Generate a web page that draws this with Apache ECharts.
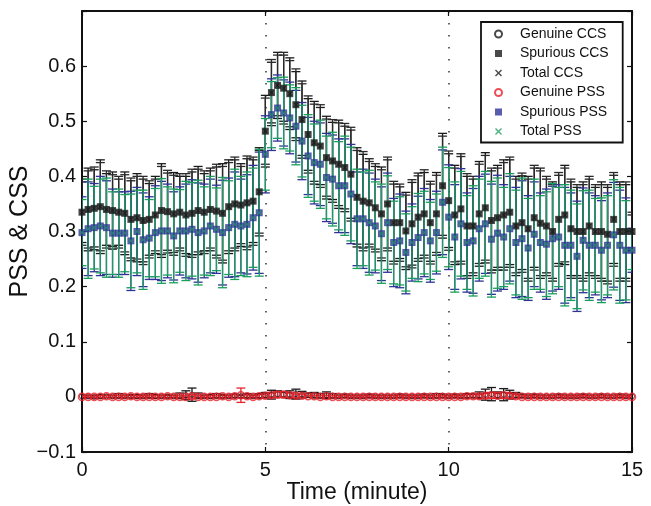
<!DOCTYPE html>
<html><head><meta charset="utf-8">
<script src="https://cdn.jsdelivr.net/npm/echarts@6/dist/echarts.min.js"></script>
<style>html,body{margin:0;padding:0;background:#fff}#c{width:651px;height:506px}</style>
</head><body><div id="c"></div>
<script>
// sample times in seconds (10 s windows)
const timeSec = [
0,10,20,30,40,50,60,70,80,90,
100,110,120,130,140,150,160,170,180,190,
200,210,220,230,240,250,260,270,280,290,
300,310,320,330,340,350,360,370,380,390,
400,410,420,430,440,450,460,470,480,490,
500,510,520,530,540,550,560,570,580,590,
600,610,620,630,640,650,660,670,680,690,
700,710,720,730,740,750,760,770,780,790,
800,810,820,830,840,850,860,870,880,890,
900];
const xTicks = [0, 5, 10, 15];
const yTicks = [-0.1, 0, 0.1, 0.2, 0.3, 0.4, 0.5, 0.6];

const spuriousCCS = [
.335,.340,.342,.345,.340,.338,.335,.333,.322,.325,
.320,.322,.330,.338,.336,.332,.335,.330,.333,.338,
.335,.340,.337,.333,.345,.350,.348,.352,.355,.372,
.482,.552,.565,.560,.550,.530,.503,.476,.461,.455,
.434,.428,.422,.416,.404,.362,.355,.352,.343,.332,
.350,.316,.316,.301,.314,.326,.332,.316,.332,.383,
.356,.330,.341,.310,.310,.332,.343,.320,.325,.330,
.335,.310,.316,.305,.325,.315,.310,.300,.322,.330,
.305,.300,.300,.310,.300,.300,.295,.322,.300,.300,
.300];
const totalCCS = spuriousCCS;
const spuriousPSS = [
.298,.305,.307,.310,.307,.297,.297,.297,.283,.300,
.285,.288,.298,.301,.301,.292,.301,.301,.304,.298,
.301,.310,.304,.298,.307,.313,.310,.313,.325,.334,
.440,.512,.524,.515,.506,.491,.464,.437,.425,.422,
.398,.395,.383,.383,.368,.323,.323,.316,.310,.296,
.316,.280,.283,.262,.280,.289,.298,.283,.298,.353,
.326,.290,.314,.280,.283,.305,.314,.286,.297,.290,
.305,.280,.287,.270,.295,.280,.277,.287,.290,.275,
.275,.255,.284,.275,.275,.266,.275,.294,.275,.266,
.266];
const totalPSS = spuriousPSS;
const genuineCCS = [
.001,.001,.000,.001,.001,.001,.002,.001,.001,.001,
.001,.002,.001,.001,.001,.001,.002,.003,.004,.002,
.001,.001,.002,.001,.001,.002,.001,.002,.001,.002,
.003,.004,.005,.004,.004,.005,.004,.003,.003,.002,
.003,.002,.001,.002,.001,.001,.001,.002,.001,.001,
.001,.001,.002,.001,.001,.001,.002,.001,.002,.002,
.001,.002,.001,.002,.002,.003,.004,.005,.003,.004,
.004,.003,.002,.001,.002,.001,.001,.001,.002,.001,
.001,.001,.002,.001,.001,.002,.001,.001,.002,.001,
.001];
const genuinePSS = [
0,0,0,0,.001,0,0,0,.001,0,
0,0,0,0,.001,0,0,0,.001,0,
0,0,0,.001,0,.001,.003,.001,0,.001,
.002,.003,.004,.004,.003,.002,.002,.001,.001,0,
.001,0,0,0,0,0,0,0,0,0,
0,0,0,0,0,0,0,0,0,0,
0,0,0,.001,.001,.001,.002,.003,.002,.003,
.002,.001,0,0,0,0,0,0,0,0,
0,0,0,0,0,0,0,0,0,0,
0];

const errSpuriousCCS = [
.055,.075,.070,.085,.065,.070,.060,.075,.070,.080,
.075,.065,.070,.085,.070,.075,.065,.070,.075,.080,
.070,.075,.080,.090,.085,.080,.075,.080,.075,.080,
.065,.055,.060,.060,.065,.060,.070,.065,.075,.070,
.075,.070,.080,.075,.080,.090,.085,.080,.075,.085,
.080,.070,.065,.070,.075,.080,.075,.070,.075,.095,
.085,.090,.100,.090,.085,.095,.100,.090,.095,.100,
.095,.090,.085,.095,.090,.100,.085,.090,.080,.090,
.085,.080,.090,.085,.080,.090,.085,.080,.090,.085,
.030];
const errTotalCCS = [
.060,.070,.075,.080,.070,.065,.065,.070,.075,.075,
.080,.070,.065,.080,.075,.070,.070,.075,.080,.075,
.075,.070,.085,.085,.080,.085,.070,.085,.080,.075,
.060,.060,.055,.065,.060,.065,.065,.070,.070,.075,
.070,.075,.075,.080,.085,.085,.090,.075,.080,.080,
.085,.075,.070,.065,.080,.075,.080,.075,.070,.090,
.090,.085,.095,.095,.090,.090,.095,.095,.090,.095,
.100,.085,.090,.090,.095,.095,.090,.085,.085,.085,
.090,.085,.085,.090,.085,.085,.090,.085,.085,.090,
.035];
const errSpuriousPSS = [
.065,.085,.080,.090,.085,.080,.075,.075,.090,.080,
.085,.075,.085,.090,.085,.080,.080,.085,.090,.090,
.085,.085,.080,.095,.090,.095,.085,.090,.095,.110,
.070,.065,.060,.060,.065,.065,.070,.070,.075,.075,
.080,.080,.085,.085,.090,.085,.090,.090,.085,.085,
.090,.080,.085,.075,.070,.075,.080,.075,.075,.095,
.095,.095,.100,.090,.095,.095,.090,.100,.105,.095,
.095,.100,.105,.095,.095,.090,.100,.095,.095,.105,
.095,.100,.095,.095,.090,.090,.095,.095,.100,.095,
.040];
const errTotalPSS = [
.060,.090,.075,.085,.090,.075,.080,.070,.085,.075,
.090,.070,.080,.095,.080,.085,.075,.090,.085,.095,
.080,.090,.075,.100,.085,.100,.090,.095,.090,.115,
.065,.060,.055,.065,.060,.070,.065,.075,.070,.080,
.075,.085,.080,.090,.085,.090,.085,.095,.080,.090,
.085,.075,.080,.070,.065,.080,.075,.070,.070,.100,
.090,.100,.095,.085,.100,.090,.095,.105,.100,.090,
.100,.095,.110,.090,.100,.085,.095,.100,.090,.110,
.100,.095,.090,.100,.085,.095,.090,.100,.105,.090,
.035];
const errGenuineCCS = [
.002,.002,.002,.003,.002,.002,.004,.002,.002,.003,
.002,.004,.003,.002,.002,.002,.005,.008,.012,.005,
.002,.003,.004,.002,.002,.003,.002,.004,.002,.004,
.005,.008,.006,.005,.007,.009,.006,.004,.005,.004,
.006,.004,.002,.003,.002,.002,.002,.003,.002,.002,
.002,.002,.003,.002,.002,.002,.003,.002,.004,.003,
.002,.003,.002,.004,.003,.006,.010,.012,.006,.011,
.008,.005,.003,.002,.003,.002,.002,.002,.003,.002,
.002,.002,.003,.002,.002,.003,.002,.002,.003,.002,
.002];
const errGenuinePSS = [
.002,.002,.002,.002,.002,.002,.002,.002,.003,.002,
.002,.002,.002,.002,.003,.002,.002,.002,.003,.002,
.002,.002,.002,.003,.002,.003,.013,.003,.002,.003,
.003,.004,.005,.005,.004,.003,.003,.002,.002,.002,
.002,.002,.002,.002,.002,.002,.002,.002,.002,.002,
.002,.002,.002,.002,.002,.002,.002,.002,.002,.002,
.002,.002,.002,.003,.003,.003,.004,.005,.004,.005,
.004,.003,.002,.002,.002,.002,.002,.002,.002,.002,
.002,.002,.002,.002,.002,.002,.002,.002,.002,.002,
.002];

const FONT = "'Liberation Sans', Arial, Helvetica, sans-serif";
const CROSS = 'path://M0,1.4L1.4,0L5,3.6L8.6,0L10,1.4L6.4,5L10,8.6L8.6,10L5,6.4L1.4,10L0,8.6L3.6,5Z';

function rows(means, errs) {
  return timeSec.map((s, i) => [s / 60, means[i], errs[i]]);
}
function pts(means) {
  return timeSec.map((s, i) => [s / 60, means[i]]);
}
function errSeries(means, errs, color) {
  return {
    type: 'custom', silent: true, clip: true,
    data: rows(means, errs),
    encode: { x: 0, y: 1 },
    renderItem: function (params, api) {
      const x = api.value(0), y = api.value(1), e = api.value(2);
      const hi = api.coord([x, y + e]), lo = api.coord([x, y - e]);
      const w = 4.5;
      const st = { stroke: color, lineWidth: 1.3, fill: 'none' };
      return { type: 'group', children: [
        { type: 'line', shape: { x1: hi[0], y1: hi[1], x2: lo[0], y2: lo[1] }, style: st },
        { type: 'line', shape: { x1: hi[0] - w, y1: hi[1], x2: hi[0] + w, y2: hi[1] }, style: st },
        { type: 'line', shape: { x1: lo[0] - w, y1: lo[1], x2: lo[0] + w, y2: lo[1] }, style: st }
      ]};
    }
  };
}
function markSeries(name, means, symbol, size, itemStyle) {
  return { type: 'scatter', name: name, data: pts(means), symbol: symbol, symbolSize: size,
    itemStyle: itemStyle, silent: true, animation: false };
}

const BLACK = '#1a1a1a', RED = '#e8222b', BLUE = '#2f3396', GREEN = '#1a9e5e';

const yFmt = function (v) {
  if (v > 0.65) return '';
  if (Math.abs(v) < 1e-9) return '0';
  return (v < 0 ? '\u22120.' : '0.') + Math.round(Math.abs(v) * 10);
};

const axisLineStyle = { show: true, onZero: false, lineStyle: { color: '#111', width: 2 } };
const tickStyle = { show: true, inside: true, length: 5, lineStyle: { color: '#111', width: 1.2 } };

const chart = echarts.init(document.getElementById('c'), null, { renderer: 'canvas' });
chart.setOption({
  animation: false,
  backgroundColor: '#fff',
  textStyle: { fontFamily: FONT },
  grid: { left: 82, right: 19, top: 11, bottom: 54, containLabel: false, outerBoundsMode: 'none' },
  legend: {
    data: ['Genuine CCS', 'Spurious CCS', 'Total CCS', 'Genuine PSS', 'Spurious PSS', 'Total PSS'],
    orient: 'vertical', left: 481, top: 22,
    itemWidth: 7, itemHeight: 7, itemGap: 3.5,
    padding: [4, 14, 3, 13],
    borderColor: '#111', borderWidth: 1.8, backgroundColor: '#fff',
    textStyle: { fontFamily: FONT, fontSize: 14, color: '#111', lineHeight: 16, padding: [0, 0, 0, 13] },
    selectedMode: false
  },
  xAxis: [{
    type: 'value', min: 0, max: 15, interval: 5,
    name: 'Time (minute)', nameLocation: 'middle', nameGap: 29, nameMoveOverlap: false,
    nameTextStyle: { fontFamily: FONT, fontSize: 23, color: '#111' },
    axisLine: axisLineStyle, axisTick: tickStyle,
    axisLabel: { fontFamily: FONT, fontSize: 20, color: '#111', margin: 8,
      formatter: function (v) { return xTicks.indexOf(v) >= 0 ? String(v) : ''; } },
    splitLine: { show: true, lineStyle: { color: '#333', width: 1.5, type: [1.5, 10.5] } }
  }, {
    type: 'value', min: 0, max: 15, interval: 5, position: 'top',
    axisLine: axisLineStyle, axisTick: tickStyle,
    axisLabel: { show: false }, splitLine: { show: false }
  }],
  yAxis: [{
    type: 'value', min: -0.1, max: 0.7, interval: 0.1,
    name: 'PSS & CSS', nameLocation: 'middle', nameGap: 49, nameRotate: 90, nameMoveOverlap: false,
    nameTextStyle: { fontFamily: FONT, fontSize: 25, color: '#111' },
    axisLine: axisLineStyle, axisTick: tickStyle,
    axisLabel: { fontFamily: FONT, fontSize: 20, color: '#111', margin: 6, formatter: yFmt },
    splitLine: { show: false }
  }, {
    type: 'value', min: -0.1, max: 0.7, interval: 0.1, position: 'right',
    axisLine: axisLineStyle, axisTick: tickStyle,
    axisLabel: { show: false }, splitLine: { show: false }
  }],
  series: [
    errSeries(genuineCCS, errGenuineCCS, BLACK),
    markSeries('Genuine CCS', genuineCCS, 'circle', 5, { color: 'rgba(0,0,0,0)', borderColor: BLACK, borderWidth: 1 }),
    errSeries(spuriousCCS, errSpuriousCCS, BLACK),
    markSeries('Spurious CCS', spuriousCCS, 'rect', 7, { color: BLACK }),
    errSeries(totalCCS, errTotalCCS, '#2a2a2a'),
    markSeries('Total CCS', totalCCS, CROSS, 5, { color: BLACK }),
    errSeries(genuinePSS, errGenuinePSS, RED),
    markSeries('Genuine PSS', genuinePSS, 'circle', 7, { color: 'rgba(0,0,0,0)', borderColor: RED, borderWidth: 1.6 }),
    errSeries(spuriousPSS, errSpuriousPSS, BLUE),
    markSeries('Spurious PSS', spuriousPSS, 'rect', 7, { color: BLUE }),
    errSeries(totalPSS, errTotalPSS, GREEN),
    markSeries('Total PSS', totalPSS, CROSS, 5, { color: GREEN })
  ]
});
</script></body></html>
